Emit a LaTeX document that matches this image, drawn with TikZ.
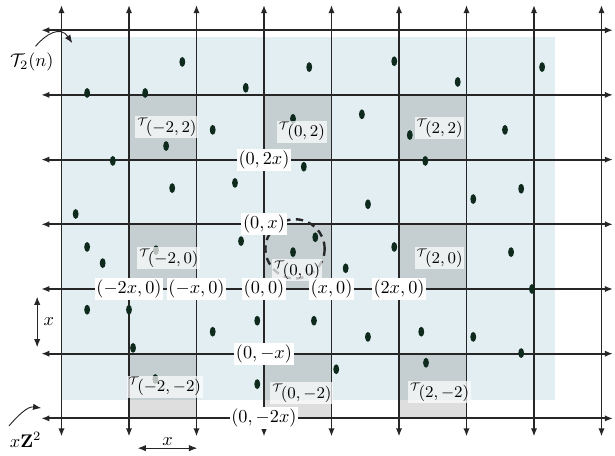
\documentclass[tikz,border=0pt]{standalone}
\usepackage{amsmath,amssymb}
\usetikzlibrary{arrows.meta}
\definecolor{ink}{HTML}{262626}
\definecolor{region}{HTML}{E3EEF2}
\definecolor{seed}{HTML}{0E2A1C}
\tikzset{>={Latex[length=4.5pt,width=3.5pt]},
  gridline/.style={<->,draw=ink,line width=1pt},
  cell/.style={fill=black,fill opacity=.13},
  seeddot/.style={fill=seed},
  ring/.style={draw=ink,line width=1.3pt,dash pattern=on 4pt off 3pt},
  lat/.style={fill=white,inner sep=1pt},
  celllabel/.style={fill=white,fill opacity=.7,text opacity=1,inner sep=1pt,font=\small},
  dim/.style={<->,draw=ink,line width=.5pt},
  pointer/.style={->,draw=ink,line width=.5pt}}

\begin{document}
\begin{tikzpicture}[x=1.3cm,y=1.246cm]
\useasboundingbox (-3.911,-2.566) rectangle (5.2,4.467);
\fill[region] (-3,-1.72) rectangle (4.31,3.9);
\foreach \i in {-2,0,2} {\foreach \j in {-2,0,2} {\fill[cell] (\i,\j) rectangle ++(1,1);}}
\foreach \x in {-3,...,5} {\draw[gridline] (\x,-2.28)--(\x,4.39);}
\foreach \y in {-2,...,4} {\draw[gridline] (-3.3,\y)--(5.17,\y);}
\foreach \p in {(-1.21,3.51),(-2.62,3.03),(-1.76,3.03),(0.67,3.43),(-0.27,3.11),(1.93,3.52),
  (2.87,3.20),(4.12,3.43),(-0.76,2.46),(-1.45,2.21),(0.43,2.63),(1.45,2.70),(3.57,2.46),
  (2.16,2.38),(-2.24,1.98),(2.39,1.98),(-1.36,1.56),(-0.43,1.64),(0.59,1.89),(1.54,1.31),
  (3.10,1.39),(3.81,1.55),(-2.79,1.16),(-2.62,0.65),(-2.39,0.40),(-0.34,0.74),(0.76,0.80),
  (0.43,0.57),(1.21,0.32),(1.93,0.65),(3.66,0.57),(3.97,0),(-1.60,0.60),(-2.62,-0.32),
  (-2.00,-0.32),(-1.94,-0.91),(-1.61,-1.39),(-0.76,-0.66),(-0.10,-0.49),(0.74,-0.49),
  (1.54,-0.74),(1.07,-1.24),(-0.10,-1.47),(2.33,-0.66),(3.10,-0.74),(3.81,-0.99),(2.40,-1.14)}
  {\fill[seeddot] \p ellipse (1.6pt and 2.7pt);}
\draw[ring] (0.46,0.62) circle (0.57cm);
\foreach \i/\j/\px/\py in {-2/2/-1.44/2.5,0/2/0.56/2.43,2/2/2.6/2.49,
  -2/0/-1.41/0.48,0/0/0.49/0.29,2/0/2.6/0.48,
  -2/-2/-1.47/-1.51,0/-2/0.56/-1.61,2/-2/2.6/-1.59}
  {\node[celllabel] (t\i\j) at (\px,\py) {${}^{\mathcal{T}}\!(\i,\j)$};}
\node[lat] (o) at (0,0) {$(0,0)$};
\node[lat] (e1) at (1,0) {$(x,0)$};
\node[lat] (e2) at (2,0) {$(2x,0)$};
\node[lat] (w1) at (-1,0) {$(-x,0)$};
\node[lat] (w2) at (-2,0) {$(-2x,0)$};
\node[lat] (n1) at (0,1) {$(0,x)$};
\node[lat] (n2) at (0,2) {$(0,2x)$};
\node[lat] (s1) at (0,-1) {$(0,-x)$};
\node[lat] (s2) at (0,-2) {$(0,-2x)$};
\node (T2) at (-3.44,3.51) {$\mathcal{T}_2(n)$};
\coordinate (T2tip) at (-2.84,3.80);
\draw[pointer] ([xshift=2pt]T2.north) .. controls (-3.24,3.93) and (-3.02,4.08) .. (T2tip);
\node (Z) at (-3.53,-2.33) {$x\mathbf{Z}^2$};
\coordinate (Ztip) at (-3.30,-1.84);
\draw[pointer] ([xshift=3pt]Z.north west) .. controls (-3.64,-1.95) and (-3.50,-1.81) .. (Ztip);
\coordinate (v1) at (-3.36,-0.12);\coordinate (v2) at (-3.36,-0.90);
\draw[dim] (v1) -- node[right] {$x$} (v2);
\coordinate (h1) at (-1.87,-2.46);\coordinate (h2) at (-0.99,-2.46);
\draw[dim] (h1) -- node[above,inner sep=1pt] {$x$} (h2);
\end{tikzpicture}
\end{document}
